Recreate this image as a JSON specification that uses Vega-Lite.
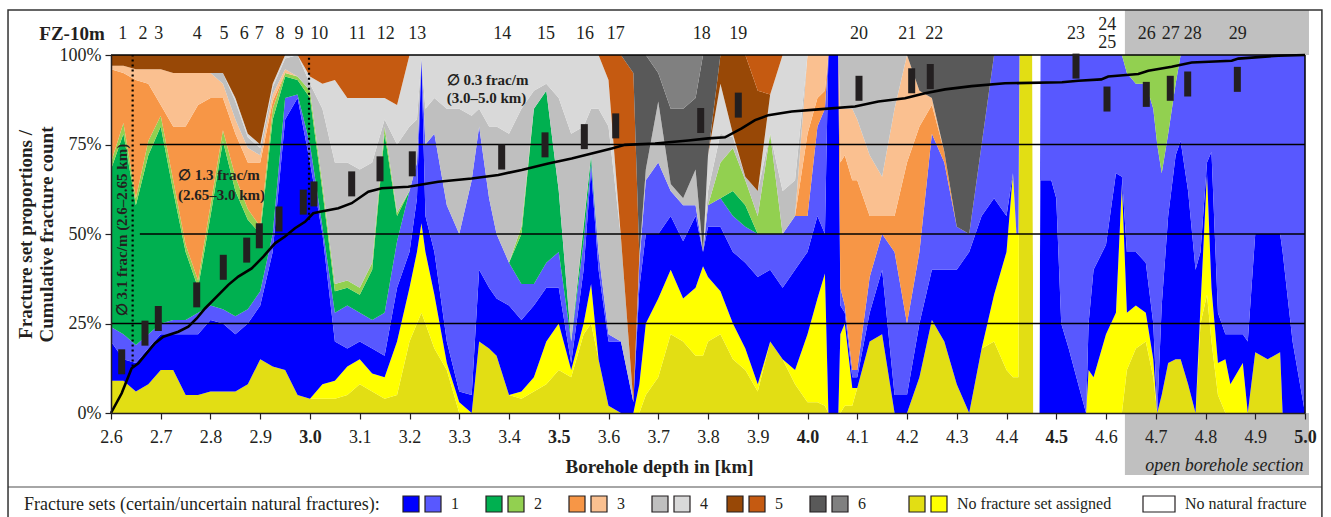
{
  "$schema": "https://vega.github.io/schema/vega-lite/v6.json",
  "width": 1194,
  "height": 358,
  "autosize": {"type": "none"},
  "padding": {"left": 111, "top": 55, "right": 26, "bottom": 104},
  "background": "#ffffff",
  "config": {
    "view": {"stroke": null},
    "font": "Liberation Serif",
    "axis": {"labelFont": "Liberation Serif", "titleFont": "Liberation Serif", "labelColor": "#231F20", "titleColor": "#231F20", "domainColor": "#231F20", "tickColor": "#231F20", "zindex": 1, "grid": false}
  },
  "datasets": {
    "areas": [
      {"km":2.6,"a":9,"b":0,"c":11,"d":4,"e":44,"f":2,"g":26,"h":1,"i":0,"j":0,"k":3,"l":0,"m":0,"n":0,"o":0},
      {"km":2.625,"a":9,"b":0,"c":6,"d":7,"e":56,"f":3,"g":14,"h":2,"i":0,"j":0,"k":3,"l":0,"m":0,"n":0,"o":0},
      {"km":2.65,"a":6,"b":0,"c":8,"d":5,"e":39,"f":2,"g":33,"h":3,"i":0,"j":0,"k":4,"l":0,"m":0,"n":0,"o":0},
      {"km":2.675,"a":8,"b":0,"c":10,"d":4,"e":50,"f":4,"g":16,"h":4,"i":0,"j":0,"k":4,"l":0,"m":0,"n":0,"o":0},
      {"km":2.7,"a":12,"b":0,"c":10,"d":3,"e":55,"f":3,"g":3,"h":10,"i":0,"j":0,"k":4,"l":0,"m":0,"n":0,"o":0},
      {"km":2.725,"a":12,"b":0,"c":10,"d":4,"e":36,"f":3,"g":15,"h":15,"i":0,"j":0,"k":5,"l":0,"m":0,"n":0,"o":0},
      {"km":2.75,"a":5,"b":0,"c":17,"d":4,"e":19,"f":2,"g":33,"h":15,"i":0,"j":0,"k":5,"l":0,"m":0,"n":0,"o":0},
      {"km":2.775,"a":5,"b":0,"c":17,"d":6,"e":7,"f":2,"g":49,"h":9,"i":0,"j":0,"k":5,"l":0,"m":0,"n":0,"o":0},
      {"km":2.8,"a":6,"b":0,"c":20,"d":4,"e":25,"f":3,"g":30,"h":7,"i":0,"j":0,"k":5,"l":0,"m":0,"n":0,"o":0},
      {"km":2.825,"a":6,"b":0,"c":19,"d":4,"e":47,"f":3,"g":9,"h":4,"i":3,"j":0,"k":5,"l":0,"m":0,"n":0,"o":0},
      {"km":2.85,"a":6,"b":0,"c":16,"d":5,"e":35,"f":4,"g":12,"h":4,"i":5,"j":1,"k":12,"l":0,"m":0,"n":0,"o":0},
      {"km":2.875,"a":8,"b":0,"c":17,"d":4,"e":25,"f":3,"g":13,"h":4,"i":3,"j":1,"k":22,"l":0,"m":0,"n":0,"o":0},
      {"km":2.9,"a":15,"b":0,"c":15,"d":4,"e":16,"f":2,"g":18,"h":2,"i":2,"j":1,"k":25,"l":0,"m":0,"n":0,"o":0},
      {"km":2.925,"a":13,"b":0,"c":32,"d":5,"e":32,"f":3,"g":2,"h":2,"i":2,"j":1,"k":8,"l":0,"m":0,"n":0,"o":0},
      {"km":2.95,"a":12,"b":0,"c":70,"d":6,"e":6,"f":1,"g":0,"h":1,"i":3,"j":1,"k":0,"l":0,"m":0,"n":0,"o":0},
      {"km":2.975,"a":5,"b":0,"c":83,"d":1,"e":4,"f":1,"g":0,"h":0,"i":6,"j":0,"k":0,"l":0,"m":0,"n":0,"o":0},
      {"km":3.0,"a":4,"b":0,"c":66,"d":5,"e":13,"f":2,"g":0,"h":0,"i":2,"j":2,"k":0,"l":6,"m":0,"n":0,"o":0},
      {"km":3.025,"a":4,"b":4,"c":42,"d":2,"e":10,"f":2,"g":0,"h":0,"i":21,"j":7,"k":0,"l":8,"m":0,"n":0,"o":0},
      {"km":3.05,"a":4,"b":5,"c":11,"d":8,"e":6,"f":2,"g":0,"h":0,"i":34,"j":23,"k":0,"l":7,"m":0,"n":0,"o":0},
      {"km":3.075,"a":5,"b":8,"c":5,"d":12,"e":5,"f":2,"g":0,"h":0,"i":33,"j":18,"k":0,"l":12,"m":0,"n":0,"o":0},
      {"km":3.1,"a":8,"b":7,"c":5,"d":8,"e":5,"f":2,"g":0,"h":0,"i":33,"j":20,"k":0,"l":12,"m":0,"n":0,"o":0},
      {"km":3.125,"a":6,"b":5,"c":7,"d":8,"e":14,"f":2,"g":0,"h":0,"i":28,"j":18,"k":0,"l":12,"m":0,"n":0,"o":0},
      {"km":3.15,"a":4,"b":6,"c":6,"d":12,"e":50,"f":2,"g":0,"h":0,"i":2,"j":6,"k":0,"l":12,"m":0,"n":0,"o":0},
      {"km":3.175,"a":5,"b":15,"c":15,"d":13,"e":7,"f":1,"g":0,"h":0,"i":19,"j":11,"k":0,"l":14,"m":0,"n":0,"o":0},
      {"km":3.2,"a":20,"b":15,"c":10,"d":17,"e":0,"f":0,"g":0,"h":0,"i":18,"j":20,"k":0,"l":0,"m":0,"n":0,"o":0},
      {"km":3.215,"a":25,"b":20,"c":15,"d":10,"e":0,"f":0,"g":0,"h":0,"i":12,"j":18,"k":0,"l":0,"m":0,"n":0,"o":0},
      {"km":3.224,"a":28,"b":25,"c":46,"d":0,"e":0,"f":0,"g":0,"h":0,"i":0,"j":1,"k":0,"l":0,"m":0,"n":0,"o":0},
      {"km":3.232,"a":25,"b":20,"c":10,"d":20,"e":0,"f":0,"g":0,"h":0,"i":10,"j":15,"k":0,"l":0,"m":0,"n":0,"o":0},
      {"km":3.25,"a":18,"b":15,"c":12,"d":33,"e":0,"f":0,"g":0,"h":0,"i":10,"j":12,"k":0,"l":0,"m":0,"n":0,"o":0},
      {"km":3.275,"a":12,"b":2,"c":6,"d":38,"e":0,"f":0,"g":0,"h":0,"i":27,"j":15,"k":0,"l":0,"m":0,"n":0,"o":0},
      {"km":3.3,"a":0,"b":3,"c":3,"d":44,"e":0,"f":0,"g":0,"h":0,"i":35,"j":15,"k":0,"l":0,"m":0,"n":0,"o":0},
      {"km":3.325,"a":0,"b":0,"c":5,"d":60,"e":0,"f":0,"g":0,"h":0,"i":18,"j":17,"k":0,"l":0,"m":0,"n":0,"o":0},
      {"km":3.34,"a":20,"b":0,"c":20,"d":40,"e":0,"f":0,"g":0,"h":0,"i":5,"j":15,"k":0,"l":0,"m":0,"n":0,"o":0},
      {"km":3.36,"a":18,"b":0,"c":17,"d":25,"e":0,"f":0,"g":0,"h":0,"i":20,"j":20,"k":0,"l":0,"m":0,"n":0,"o":0},
      {"km":3.375,"a":16,"b":0,"c":16,"d":18,"e":0,"f":0,"g":0,"h":0,"i":30,"j":20,"k":0,"l":0,"m":0,"n":0,"o":0},
      {"km":3.4,"a":5,"b":0,"c":25,"d":12,"e":0,"f":0,"g":0,"h":0,"i":36,"j":22,"k":0,"l":0,"m":0,"n":0,"o":0},
      {"km":3.425,"a":4,"b":2,"c":20,"d":10,"e":14,"f":2,"g":0,"h":0,"i":33,"j":15,"k":0,"l":0,"m":0,"n":0,"o":0},
      {"km":3.45,"a":6,"b":4,"c":20,"d":6,"e":49,"f":0,"g":0,"h":0,"i":5,"j":10,"k":0,"l":0,"m":0,"n":0,"o":0},
      {"km":3.475,"a":8,"b":12,"c":15,"d":7,"e":48,"f":0,"g":0,"h":0,"i":2,"j":8,"k":0,"l":0,"m":0,"n":0,"o":0},
      {"km":3.5,"a":12,"b":13,"c":10,"d":10,"e":17,"f":0,"g":0,"h":0,"i":26,"j":12,"k":0,"l":0,"m":0,"n":0,"o":0},
      {"km":3.525,"a":10,"b":2,"c":2,"d":6,"e":0,"f":0,"g":0,"h":0,"i":58,"j":22,"k":0,"l":0,"m":0,"n":0,"o":0},
      {"km":3.55,"a":22,"b":3,"c":15,"d":8,"e":4,"f":1,"g":0,"h":0,"i":27,"j":20,"k":0,"l":0,"m":0,"n":0,"o":0},
      {"km":3.565,"a":25,"b":11,"c":32,"d":2,"e":2,"f":0,"g":0,"h":0,"i":13,"j":15,"k":0,"l":0,"m":0,"n":0,"o":0},
      {"km":3.58,"a":15,"b":0,"c":25,"d":5,"e":0,"f":0,"g":0,"h":0,"i":40,"j":15,"k":0,"l":0,"m":0,"n":0,"o":0},
      {"km":3.6,"a":2,"b":0,"c":18,"d":2,"e":0,"f":0,"g":0,"h":0,"i":58,"j":13,"k":0,"l":7,"m":0,"n":0,"o":0},
      {"km":3.625,"a":0,"b":0,"c":20,"d":0,"e":0,"f":0,"g":0,"h":0,"i":29,"j":0,"k":0,"l":51,"m":0,"n":0,"o":0},
      {"km":3.65,"a":0,"b":0,"c":3,"d":0,"e":0,"f":0,"g":0,"h":0,"i":0,"j":0,"k":0,"l":92,"m":5,"n":0,"o":0},
      {"km":3.662,"a":0,"b":8,"c":27,"d":7,"e":0,"f":0,"g":0,"h":0,"i":2,"j":0,"k":0,"l":0,"m":56,"n":0,"o":0},
      {"km":3.675,"a":5,"b":20,"c":25,"d":15,"e":0,"f":0,"g":0,"h":0,"i":3,"j":0,"k":0,"l":0,"m":32,"n":0,"o":0},
      {"km":3.7,"a":10,"b":22,"c":18,"d":20,"e":0,"f":0,"g":0,"h":0,"i":17,"j":0,"k":0,"l":0,"m":8,"n":5,"o":0},
      {"km":3.725,"a":22,"b":18,"c":15,"d":7,"e":0,"f":0,"g":0,"h":0,"i":2,"j":0,"k":0,"l":0,"m":21,"n":15,"o":0},
      {"km":3.75,"a":20,"b":12,"c":16,"d":10,"e":0,"f":0,"g":0,"h":0,"i":2,"j":0,"k":0,"l":0,"m":25,"n":15,"o":0},
      {"km":3.775,"a":16,"b":19,"c":20,"d":3,"e":0,"f":0,"g":0,"h":0,"i":10,"j":0,"k":0,"l":0,"m":20,"n":12,"o":0},
      {"km":3.79,"a":16,"b":25,"c":4,"d":0,"e":0,"f":0,"g":0,"h":0,"i":0,"j":0,"k":0,"l":0,"m":55,"n":0,"o":0},
      {"km":3.8,"a":20,"b":18,"c":14,"d":6,"e":0,"f":0,"g":0,"h":0,"i":4,"j":10,"k":0,"l":0,"m":28,"n":0,"o":0},
      {"km":3.825,"a":22,"b":12,"c":18,"d":8,"e":0,"f":10,"g":0,"h":0,"i":8,"j":14,"k":8,"l":0,"m":0,"n":0,"o":0},
      {"km":3.85,"a":15,"b":10,"c":20,"d":10,"e":7,"f":12,"g":0,"h":0,"i":3,"j":1,"k":22,"l":0,"m":0,"n":0,"o":0},
      {"km":3.875,"a":12,"b":6,"c":24,"d":10,"e":6,"f":7,"g":0,"h":0,"i":1,"j":0,"k":34,"l":0,"m":0,"n":0,"o":0},
      {"km":3.9,"a":6,"b":2,"c":30,"d":12,"e":0,"f":5,"g":0,"h":0,"i":7,"j":0,"k":28,"l":10,"m":0,"n":0,"o":0},
      {"km":3.925,"a":20,"b":0,"c":20,"d":10,"e":0,"f":28,"g":0,"h":0,"i":0,"j":11,"k":0,"l":11,"m":0,"n":0,"o":0},
      {"km":3.95,"a":15,"b":0,"c":20,"d":15,"e":0,"f":0,"g":0,"h":0,"i":12,"j":38,"k":0,"l":0,"m":0,"n":0,"o":0},
      {"km":3.975,"a":8,"b":4,"c":28,"d":15,"e":0,"f":0,"g":0,"h":0,"i":10,"j":35,"k":0,"l":0,"m":0,"n":0,"o":0},
      {"km":4.0,"a":3,"b":19,"c":23,"d":10,"e":0,"f":0,"g":23,"h":22,"i":0,"j":0,"k":0,"l":0,"m":0,"n":0,"o":0},
      {"km":4.02,"a":3,"b":29,"c":23,"d":25,"e":0,"f":0,"g":8,"h":12,"i":0,"j":0,"k":0,"l":0,"m":0,"n":0,"o":0},
      {"km":4.035,"a":2,"b":37,"c":11,"d":35,"e":0,"f":0,"g":5,"h":10,"i":0,"j":0,"k":0,"l":0,"m":0,"n":0,"o":0},
      {"km":4.042,"a":0,"b":0,"c":100,"d":0,"e":0,"f":0,"g":0,"h":0,"i":0,"j":0,"k":0,"l":0,"m":0,"n":0,"o":0},
      {"km":4.062,"a":0,"b":0,"c":100,"d":0,"e":0,"f":0,"g":0,"h":0,"i":0,"j":0,"k":0,"l":0,"m":0,"n":0,"o":0},
      {"km":4.066,"a":0,"b":22,"c":8,"d":5,"e":0,"f":0,"g":35,"h":15,"i":15,"j":0,"k":0,"l":0,"m":0,"n":0,"o":0},
      {"km":4.075,"a":2,"b":23,"c":3,"d":2,"e":0,"f":0,"g":42,"h":13,"i":15,"j":0,"k":0,"l":0,"m":0,"n":0,"o":0},
      {"km":4.09,"a":2,"b":5,"c":3,"d":2,"e":0,"f":0,"g":53,"h":20,"i":15,"j":0,"k":0,"l":0,"m":0,"n":0,"o":0},
      {"km":4.1,"a":7,"b":0,"c":3,"d":2,"e":0,"f":0,"g":53,"h":17,"i":18,"j":0,"k":0,"l":0,"m":0,"n":0,"o":0},
      {"km":4.125,"a":20,"b":0,"c":8,"d":10,"e":0,"f":0,"g":17,"h":17,"i":28,"j":0,"k":0,"l":0,"m":0,"n":0,"o":0},
      {"km":4.15,"a":22,"b":0,"c":18,"d":10,"e":0,"f":0,"g":5,"h":11,"i":34,"j":0,"k":0,"l":0,"m":0,"n":0,"o":0},
      {"km":4.175,"a":0,"b":0,"c":5,"d":40,"e":0,"f":0,"g":10,"h":30,"i":15,"j":0,"k":0,"l":0,"m":0,"n":0,"o":0},
      {"km":4.2,"a":0,"b":0,"c":5,"d":20,"e":0,"f":0,"g":45,"h":30,"i":0,"j":0,"k":0,"l":0,"m":0,"n":0,"o":0},
      {"km":4.225,"a":10,"b":0,"c":15,"d":20,"e":0,"f":0,"g":35,"h":10,"i":0,"j":0,"k":0,"l":0,"m":10,"n":0,"o":0},
      {"km":4.25,"a":26,"b":0,"c":14,"d":38,"e":0,"f":0,"g":8,"h":2,"i":0,"j":0,"k":0,"l":0,"m":12,"n":0,"o":0},
      {"km":4.275,"a":20,"b":0,"c":20,"d":30,"e":0,"f":0,"g":3,"h":0,"i":0,"j":0,"k":0,"l":0,"m":27,"n":0,"o":0},
      {"km":4.3,"a":8,"b":0,"c":32,"d":12,"e":0,"f":0,"g":0,"h":0,"i":0,"j":0,"k":0,"l":0,"m":48,"n":0,"o":0},
      {"km":4.325,"a":0,"b":0,"c":45,"d":5,"e":0,"f":0,"g":0,"h":0,"i":0,"j":0,"k":0,"l":0,"m":50,"n":0,"o":0},
      {"km":4.35,"a":18,"b":0,"c":37,"d":20,"e":0,"f":0,"g":0,"h":0,"i":0,"j":0,"k":0,"l":0,"m":25,"n":0,"o":0},
      {"km":4.375,"a":20,"b":13,"c":27,"d":40,"e":0,"f":0,"g":0,"h":0,"i":0,"j":0,"k":0,"l":0,"m":0,"n":0,"o":0},
      {"km":4.4,"a":12,"b":33,"c":10,"d":45,"e":0,"f":0,"g":0,"h":0,"i":0,"j":0,"k":0,"l":0,"m":0,"n":0,"o":0},
      {"km":4.413,"a":10,"b":57,"c":0,"d":33,"e":0,"f":0,"g":0,"h":0,"i":0,"j":0,"k":0,"l":0,"m":0,"n":0,"o":0},
      {"km":4.42,"a":10,"b":40,"c":0,"d":50,"e":0,"f":0,"g":0,"h":0,"i":0,"j":0,"k":0,"l":0,"m":0,"n":0,"o":0},
      {"km":4.424,"a":10,"b":40,"c":0,"d":50,"e":0,"f":0,"g":0,"h":0,"i":0,"j":0,"k":0,"l":0,"m":0,"n":0,"o":0},
      {"km":4.426,"a":100,"b":0,"c":0,"d":0,"e":0,"f":0,"g":0,"h":0,"i":0,"j":0,"k":0,"l":0,"m":0,"n":0,"o":0},
      {"km":4.452,"a":100,"b":0,"c":0,"d":0,"e":0,"f":0,"g":0,"h":0,"i":0,"j":0,"k":0,"l":0,"m":0,"n":0,"o":0},
      {"km":4.454,"a":0,"b":0,"c":0,"d":0,"e":0,"f":0,"g":0,"h":0,"i":0,"j":0,"k":0,"l":0,"m":0,"n":0,"o":100},
      {"km":4.466,"a":0,"b":0,"c":0,"d":0,"e":0,"f":0,"g":0,"h":0,"i":0,"j":0,"k":0,"l":0,"m":0,"n":0,"o":100},
      {"km":4.468,"a":0,"b":0,"c":65,"d":35,"e":0,"f":0,"g":0,"h":0,"i":0,"j":0,"k":0,"l":0,"m":0,"n":0,"o":0},
      {"km":4.49,"a":0,"b":0,"c":65,"d":35,"e":0,"f":0,"g":0,"h":0,"i":0,"j":0,"k":0,"l":0,"m":0,"n":0,"o":0},
      {"km":4.5,"a":0,"b":0,"c":60,"d":40,"e":0,"f":0,"g":0,"h":0,"i":0,"j":0,"k":0,"l":0,"m":0,"n":0,"o":0},
      {"km":4.51,"a":0,"b":0,"c":25,"d":75,"e":0,"f":0,"g":0,"h":0,"i":0,"j":0,"k":0,"l":0,"m":0,"n":0,"o":0},
      {"km":4.525,"a":0,"b":0,"c":18,"d":82,"e":0,"f":0,"g":0,"h":0,"i":0,"j":0,"k":0,"l":0,"m":0,"n":0,"o":0},
      {"km":4.55,"a":0,"b":0,"c":5,"d":95,"e":0,"f":0,"g":0,"h":0,"i":0,"j":0,"k":0,"l":0,"m":0,"n":0,"o":0},
      {"km":4.56,"a":0,"b":0,"c":0,"d":100,"e":0,"f":0,"g":0,"h":0,"i":0,"j":0,"k":0,"l":0,"m":0,"n":0,"o":0},
      {"km":4.565,"a":0,"b":12,"c":13,"d":75,"e":0,"f":0,"g":0,"h":0,"i":0,"j":0,"k":0,"l":0,"m":0,"n":0,"o":0},
      {"km":4.575,"a":0,"b":10,"c":30,"d":60,"e":0,"f":0,"g":0,"h":0,"i":0,"j":0,"k":0,"l":0,"m":0,"n":0,"o":0},
      {"km":4.6,"a":0,"b":22,"c":25,"d":53,"e":0,"f":0,"g":0,"h":0,"i":0,"j":0,"k":0,"l":0,"m":0,"n":0,"o":0},
      {"km":4.62,"a":0,"b":28,"c":39,"d":33,"e":0,"f":0,"g":0,"h":0,"i":0,"j":0,"k":0,"l":0,"m":0,"n":0,"o":0},
      {"km":4.632,"a":0,"b":64,"c":2,"d":34,"e":0,"f":0,"g":0,"h":0,"i":0,"j":0,"k":0,"l":0,"m":0,"n":0,"o":0},
      {"km":4.642,"a":12,"b":16,"c":17,"d":50,"e":0,"f":5,"g":0,"h":0,"i":0,"j":0,"k":0,"l":0,"m":0,"n":0,"o":0},
      {"km":4.66,"a":18,"b":12,"c":15,"d":47,"e":0,"f":8,"g":0,"h":0,"i":0,"j":0,"k":0,"l":0,"m":0,"n":0,"o":0},
      {"km":4.68,"a":20,"b":8,"c":14,"d":50,"e":0,"f":8,"g":0,"h":0,"i":0,"j":0,"k":0,"l":0,"m":0,"n":0,"o":0},
      {"km":4.695,"a":10,"b":5,"c":10,"d":60,"e":0,"f":15,"g":0,"h":0,"i":0,"j":0,"k":0,"l":0,"m":0,"n":0,"o":0},
      {"km":4.703,"a":0,"b":0,"c":0,"d":75,"e":0,"f":25,"g":0,"h":0,"i":0,"j":0,"k":0,"l":0,"m":0,"n":0,"o":0},
      {"km":4.712,"a":5,"b":0,"c":25,"d":37,"e":0,"f":33,"g":0,"h":0,"i":0,"j":0,"k":0,"l":0,"m":0,"n":0,"o":0},
      {"km":4.725,"a":14,"b":0,"c":41,"d":23,"e":0,"f":22,"g":0,"h":0,"i":0,"j":0,"k":0,"l":0,"m":0,"n":0,"o":0},
      {"km":4.74,"a":15,"b":0,"c":57,"d":20,"e":0,"f":8,"g":0,"h":0,"i":0,"j":0,"k":0,"l":0,"m":0,"n":0,"o":0},
      {"km":4.75,"a":15,"b":0,"c":61,"d":24,"e":0,"f":0,"g":0,"h":0,"i":0,"j":0,"k":0,"l":0,"m":0,"n":0,"o":0},
      {"km":4.765,"a":8,"b":0,"c":54,"d":38,"e":0,"f":0,"g":0,"h":0,"i":0,"j":0,"k":0,"l":0,"m":0,"n":0,"o":0},
      {"km":4.78,"a":0,"b":0,"c":40,"d":60,"e":0,"f":0,"g":0,"h":0,"i":0,"j":0,"k":0,"l":0,"m":0,"n":0,"o":0},
      {"km":4.79,"a":25,"b":5,"c":15,"d":55,"e":0,"f":0,"g":0,"h":0,"i":0,"j":0,"k":0,"l":0,"m":0,"n":0,"o":0},
      {"km":4.803,"a":33,"b":34,"c":3,"d":30,"e":0,"f":0,"g":0,"h":0,"i":0,"j":0,"k":0,"l":0,"m":0,"n":0,"o":0},
      {"km":4.812,"a":20,"b":15,"c":38,"d":27,"e":0,"f":0,"g":0,"h":0,"i":0,"j":0,"k":0,"l":0,"m":0,"n":0,"o":0},
      {"km":4.825,"a":5,"b":9,"c":14,"d":72,"e":0,"f":0,"g":0,"h":0,"i":0,"j":0,"k":0,"l":0,"m":0,"n":0,"o":0},
      {"km":4.84,"a":0,"b":15,"c":7,"d":78,"e":0,"f":0,"g":0,"h":0,"i":0,"j":0,"k":0,"l":0,"m":0,"n":0,"o":0},
      {"km":4.85,"a":0,"b":8,"c":14,"d":78,"e":0,"f":0,"g":0,"h":0,"i":0,"j":0,"k":0,"l":0,"m":0,"n":0,"o":0},
      {"km":4.875,"a":0,"b":14,"c":8,"d":78,"e":0,"f":0,"g":0,"h":0,"i":0,"j":0,"k":0,"l":0,"m":0,"n":0,"o":0},
      {"km":4.885,"a":0,"b":0,"c":20,"d":80,"e":0,"f":0,"g":0,"h":0,"i":0,"j":0,"k":0,"l":0,"m":0,"n":0,"o":0},
      {"km":4.9,"a":17,"b":0,"c":33,"d":50,"e":0,"f":0,"g":0,"h":0,"i":0,"j":0,"k":0,"l":0,"m":0,"n":0,"o":0},
      {"km":4.925,"a":15,"b":0,"c":35,"d":50,"e":0,"f":0,"g":0,"h":0,"i":0,"j":0,"k":0,"l":0,"m":0,"n":0,"o":0},
      {"km":4.95,"a":17,"b":0,"c":33,"d":50,"e":0,"f":0,"g":0,"h":0,"i":0,"j":0,"k":0,"l":0,"m":0,"n":0,"o":0},
      {"km":4.955,"a":0,"b":0,"c":45,"d":55,"e":0,"f":0,"g":0,"h":0,"i":0,"j":0,"k":0,"l":0,"m":0,"n":0,"o":0},
      {"km":4.975,"a":0,"b":0,"c":20,"d":80,"e":0,"f":0,"g":0,"h":0,"i":0,"j":0,"k":0,"l":0,"m":0,"n":0,"o":0},
      {"km":5.0,"a":0,"b":0,"c":0,"d":100,"e":0,"f":0,"g":0,"h":0,"i":0,"j":0,"k":0,"l":0,"m":0,"n":0,"o":0}
    ],
    "cum": [
      {"km":2.6,"v":0},{"km":2.6215,"v":0.055},{"km":2.6415,"v":0.125},{"km":2.655,"v":0.139},{"km":2.6717,"v":0.167},
      {"km":2.6884,"v":0.195},{"km":2.7051,"v":0.213},{"km":2.7353,"v":0.227},{"km":2.7554,"v":0.241},{"km":2.7722,"v":0.264},
      {"km":2.7889,"v":0.292},{"km":2.809,"v":0.32},{"km":2.8358,"v":0.358},{"km":2.8559,"v":0.381},{"km":2.8828,"v":0.404},
      {"km":2.9062,"v":0.437},{"km":2.9296,"v":0.474},{"km":2.9497,"v":0.493},{"km":2.9698,"v":0.516},{"km":2.99,"v":0.534},
      {"km":3.0066,"v":0.558},{"km":3.0201,"v":0.562},{"km":3.0569,"v":0.572},{"km":3.0838,"v":0.586},{"km":3.1172,"v":0.618},
      {"km":3.1441,"v":0.628},{"km":3.1976,"v":0.632},{"km":3.2579,"v":0.646},{"km":3.325,"v":0.655},{"km":3.3785,"v":0.665},
      {"km":3.4255,"v":0.679},{"km":3.479,"v":0.697},{"km":3.526,"v":0.711},{"km":3.5662,"v":0.725},{"km":3.6064,"v":0.739},
      {"km":3.6332,"v":0.749},{"km":3.6935,"v":0.753},{"km":3.7604,"v":0.761},{"km":3.8006,"v":0.767},{"km":3.8342,"v":0.77},
      {"km":3.8677,"v":0.795},{"km":3.8945,"v":0.818},{"km":3.9213,"v":0.832},{"km":3.9682,"v":0.842},{"km":4.0217,"v":0.848},
      {"km":4.0955,"v":0.856},{"km":4.1424,"v":0.87},{"km":4.196,"v":0.879},{"km":4.2362,"v":0.893},{"km":4.2764,"v":0.904},
      {"km":4.33,"v":0.913},{"km":4.397,"v":0.921},{"km":4.5116,"v":0.924},{"km":4.5443,"v":0.928},{"km":4.5905,"v":0.932},
      {"km":4.6045,"v":0.94},{"km":4.6649,"v":0.947},{"km":4.685,"v":0.956},{"km":4.732,"v":0.967},{"km":4.7722,"v":0.979},
      {"km":4.8526,"v":0.984},{"km":4.866,"v":0.99},{"km":4.9464,"v":0.998},{"km":5.0,"v":1.0}
    ],
    "marks": [
      {"n":"1","km":2.6215,"p":0.143,"lx":2.6235},{"n":"2","km":2.6683,"p":0.223,"lx":2.6643},{"n":"3","km":2.6951,"p":0.264,"lx":2.6959},
      {"n":"4","km":2.7723,"p":0.33,"lx":2.7735},{"n":"5","km":2.8257,"p":0.407,"lx":2.8271},{"n":"6","km":2.8728,"p":0.455,"lx":2.8679},
      {"n":"7","km":2.8981,"p":0.495,"lx":2.8981},{"n":"8","km":2.9377,"p":0.542,"lx":2.9397},{"n":"9","km":2.9865,"p":0.589,"lx":2.9779},
      {"n":"10","km":3.008,"p":0.612,"lx":3.0187},{"n":"11","km":3.0838,"p":0.64,"lx":3.0951},{"n":"12","km":3.1407,"p":0.682,"lx":3.1522},
      {"n":"13","km":3.2056,"p":0.696,"lx":3.2157},{"n":"14","km":3.3853,"p":0.715,"lx":3.3865},{"n":"15","km":3.4724,"p":0.749,"lx":3.4744},
      {"n":"16","km":3.5514,"p":0.772,"lx":3.5528},{"n":"17","km":3.6145,"p":0.802,"lx":3.6145},{"n":"18","km":3.7853,"p":0.817,"lx":3.7873},
      {"n":"19","km":3.8609,"p":0.86,"lx":3.8609},{"n":"20","km":4.1035,"p":0.907,"lx":4.1035},{"n":"21","km":4.2094,"p":0.928,"lx":4.2006},
      {"n":"22","km":4.2468,"p":0.94,"lx":4.2549},{"n":"23","km":4.5397,"p":0.969,"lx":4.5397},{"n":"24\n25","km":4.602,"p":0.877,"lx":4.6026},
      {"n":"26","km":4.681,"p":0.89,"lx":4.6818},{"n":"27","km":4.7292,"p":0.907,"lx":4.73},{"n":"28","km":4.7642,"p":0.919,"lx":4.7743},
      {"n":"29","km":4.864,"p":0.932,"lx":4.8647}
    ]
  },
  "layer": [
    {
      "data": {"name": "areas"},
      "transform": [{"fold": ["a","b","c","d","e","f","g","h","i","j","k","l","m","n","o"], "as": ["cat","p"]}],
      "mark": {"type": "area", "interpolate": "linear"},
      "encoding": {
        "x": {"field": "km", "type": "quantitative",
          "scale": {"domain": [2.6, 5.0], "nice": false, "zero": false},
          "axis": {"zindex": 2, "values": [2.6,2.7,2.8,2.9,3.0,3.1,3.2,3.3,3.4,3.5,3.6,3.7,3.8,3.9,4.0,4.1,4.2,4.3,4.4,4.5,4.6,4.7,4.8,4.9,5.0],
            "format": ".1f", "labelFlush": false, "labelFontSize": 18, "labelPadding": 9, "tickSize": 6, "tickWidth": 1.2, "domainWidth": 1.5,
            "labelFontWeight": {"condition": {"test": "round(datum.value*10) % 5 === 0", "value": "bold"}, "value": "normal"},
            "title": "Borehole depth in [km]", "titleFontSize": 19, "titleFontWeight": "bold", "titleX": 548, "titleY": 53, "titleBaseline": "middle"}},
        "y": {"field": "p", "type": "quantitative", "stack": "normalize",
          "scale": {"domain": [0, 1], "nice": false},
          "axis": {"zindex": 2, "values": [0, 0.25, 0.5, 0.75, 1], "format": ".0%", "labelFontSize": 18, "labelPadding": 4, "tickSize": 6, "tickWidth": 1.2, "domainWidth": 1.5,
            "title": ["Fracture set proportions /", "Cumulative fracture count"], "titleFontSize": 19, "titleFontWeight": "bold", "titlePadding": 3, "titleLineHeight": 21}},
        "order": {"field": "cat", "sort": "ascending"},
        "color": {"field": "cat", "type": "nominal",
          "scale": {"domain": ["c","d","e","f","g","h","i","j","k","l","m","n","a","b","o"],
                    "range": ["#0000FF","#5858FF","#00B050","#92D050","#F79646","#FAC090","#BFBFBF","#D9D9D9","#984806","#C55A11","#595959","#808080","#E2DE14","#FFFF00","#FFFFFF"]},
          "legend": {"orient": "none", "legendX": -87, "legendY": 440, "direction": "horizontal", "columns": 15, "gridAlign": "none",
            "title": "Fracture sets (certain/uncertain natural fractures):", "titleLimit": 600, "titleOrient": "left", "titleFont": "Liberation Serif", "titleFontSize": 18, "titleFontWeight": "normal", "titleColor": "#231F20", "titlePadding": 22,
            "labelFont": "Liberation Serif", "labelFontSize": 16, "labelColor": "#231F20", "labelOffset": 1, "labelLimit": 400, "columnPadding": 0, "padding": 0,
            "symbolType": "square", "symbolSize": 256, "symbolOpacity": 1,
            "labelExpr": "datum.label=='d' ? '\u200b\u00a0\u00a01\u00a0\u00a0\u00a0\u00a0\u00a0\u00a0\u200b' : datum.label=='f' ? '\u200b\u00a0\u00a02\u00a0\u00a0\u00a0\u00a0\u00a0\u00a0\u200b' : datum.label=='h' ? '\u200b\u00a0\u00a03\u00a0\u00a0\u00a0\u00a0\u00a0\u00a0\u200b' : datum.label=='j' ? '\u200b\u00a0\u00a04\u00a0\u00a0\u00a0\u00a0\u200b' : datum.label=='l' ? '\u200b\u00a0\u00a05\u00a0\u00a0\u00a0\u00a0\u00a0\u00a0\u200b' : datum.label=='n' ? '\u200b\u00a0\u00a06\u00a0\u00a0\u00a0\u00a0\u00a0\u00a0\u00a0\u00a0\u00a0\u00a0\u200b' : datum.label=='b' ? '\u200b\u00a0\u00a0No fracture set assigned\u00a0\u00a0\u00a0\u00a0\u00a0\u00a0\u00a0\u200b' : datum.label=='o' ? '\u200b\u00a0\u00a0\u00a0\u00a0No natural fracture' : ''",
            "encode": {"symbols": {"update": {"stroke": {"value": "#231F20"}, "strokeWidth": {"value": 1.2}, "opacity": {"value": 1},
              "shape": [{"test": "datum.value === 'o'", "value": "M-2,-1H2V1H-2Z"}, {"value": "square"}]}}}}
        }
      }
    },
    {"data": {"values": [{}]}, "mark": {"type": "rect", "color": "#C0C0C0"},
     "encoding": {"x": {"datum": 4.638, "type": "quantitative"}, "x2": {"datum": 5.008}, "y": {"datum": 1.126, "type": "quantitative"}, "y2": {"datum": 1.0}}},
    {"data": {"values": [{}]}, "mark": {"type": "rect", "color": "#C0C0C0"},
     "encoding": {"x": {"datum": 4.638, "type": "quantitative"}, "x2": {"datum": 5.008}, "y": {"datum": 0.0, "type": "quantitative"}, "y2": {"datum": -0.173}}},
    {"data": {"values": [{}]}, "mark": {"type": "rule", "color": "#000000", "strokeWidth": 1.5}, "encoding": {"y": {"datum": 0.25, "type": "quantitative"}}},
    {"data": {"values": [{}]}, "mark": {"type": "rule", "color": "#000000", "strokeWidth": 1.5}, "encoding": {"y": {"datum": 1.0, "type": "quantitative"}}},
    {"data": {"values": [{}]}, "mark": {"type": "rule", "color": "#000000", "strokeWidth": 1.5}, "encoding": {"x": {"datum": 2.658, "type": "quantitative"}, "x2": {"datum": 5.0}, "y": {"datum": 0.5, "type": "quantitative"}}},
    {"data": {"values": [{}]}, "mark": {"type": "rule", "color": "#000000", "strokeWidth": 1.5}, "encoding": {"x": {"datum": 2.658, "type": "quantitative"}, "x2": {"datum": 5.0}, "y": {"datum": 0.75, "type": "quantitative"}}},
    {"data": {"values": [{}]}, "mark": {"type": "rule", "color": "#000000", "strokeWidth": 1.5}, "encoding": {"x": {"datum": 5.0, "type": "quantitative"}}},
    {"data": {"values": [{}]}, "mark": {"type": "rule", "color": "#000000", "strokeWidth": 2.2, "strokeDash": [2, 3]}, "encoding": {"x": {"datum": 2.6435, "type": "quantitative"}, "y": {"datum": 0.13, "type": "quantitative"}, "y2": {"datum": 1.0}}},
    {"data": {"values": [{}]}, "mark": {"type": "rule", "color": "#000000", "strokeWidth": 2.2, "strokeDash": [2, 3]}, "encoding": {"x": {"datum": 2.998, "type": "quantitative"}, "y": {"datum": 0.54, "type": "quantitative"}, "y2": {"datum": 1.0}}},
    {"data": {"name": "cum"}, "mark": {"type": "line", "color": "#000000", "strokeWidth": 2.6},
     "encoding": {"x": {"field": "km", "type": "quantitative"}, "y": {"field": "v", "type": "quantitative"}}},
    {"data": {"name": "marks"}, "mark": {"type": "tick", "orient": "vertical", "color": "#231F20", "size": 25, "thickness": 7, "opacity": 1},
     "encoding": {"x": {"field": "km", "type": "quantitative"}, "y": {"field": "p", "type": "quantitative"}}},
    {"data": {"name": "marks"}, "transform": [{"filter": "indexof(datum.n, '\\n') < 0"}],
     "mark": {"type": "text", "fontSize": 18, "font": "Liberation Serif", "color": "#231F20", "baseline": "middle", "align": "center"},
     "encoding": {"x": {"field": "lx", "type": "quantitative"}, "y": {"datum": 1.058, "type": "quantitative"}, "text": {"field": "n"}}},
    {"data": {"name": "marks"}, "transform": [{"filter": "indexof(datum.n, '\\n') >= 0"}],
     "mark": {"type": "text", "fontSize": 18, "font": "Liberation Serif", "color": "#231F20", "lineBreak": "\n", "lineHeight": 18, "baseline": "middle", "align": "center"},
     "encoding": {"x": {"field": "lx", "type": "quantitative"}, "y": {"datum": 1.084, "type": "quantitative"}, "text": {"field": "n"}}},
    {"data": {"values": [{}]}, "mark": {"type": "text", "text": "FZ-10m", "fontSize": 19, "fontWeight": "bold", "font": "Liberation Serif", "color": "#231F20", "baseline": "middle", "align": "center"},
     "encoding": {"x": {"datum": 2.5216, "type": "quantitative"}, "y": {"datum": 1.058, "type": "quantitative"}}},
    {"data": {"values": [{}]}, "mark": {"type": "text", "text": "∅ 3.1 frac/m (2.6–2.65 km)", "angle": 270, "fontSize": 15, "fontWeight": "bold", "font": "Liberation Serif", "color": "#231F20", "baseline": "middle", "align": "center"},
     "encoding": {"x": {"datum": 2.622, "type": "quantitative"}, "y": {"datum": 0.511, "type": "quantitative"}}},
    {"data": {"values": [{}]}, "mark": {"type": "text", "text": ["∅ 1.3 frac/m", "(2.65–3.0 km)"], "lineHeight": 20, "fontSize": 15, "fontWeight": "bold", "font": "Liberation Serif", "color": "#231F20", "baseline": "middle", "align": "left"},
     "encoding": {"x": {"datum": 2.7347, "type": "quantitative"}, "y": {"datum": 0.665, "type": "quantitative"}}},
    {"data": {"values": [{}]}, "mark": {"type": "text", "text": ["∅ 0.3 frac/m", "(3.0–5.0 km)"], "lineHeight": 18, "fontSize": 15, "fontWeight": "bold", "font": "Liberation Serif", "color": "#231F20", "baseline": "middle", "align": "left"},
     "encoding": {"x": {"datum": 3.2748, "type": "quantitative"}, "y": {"datum": 0.93, "type": "quantitative"}}},
    {"data": {"values": [{}]}, "mark": {"type": "text", "text": "open borehole section", "fontSize": 18, "fontStyle": "italic", "font": "Liberation Serif", "color": "#231F20", "baseline": "middle", "align": "center"},
     "encoding": {"x": {"datum": 4.838, "type": "quantitative"}, "y": {"datum": -0.148, "type": "quantitative"}}},
    {"data": {"values": [{}]}, "mark": {"type": "rule", "color": "#A6A6A6", "strokeWidth": 2},
     "encoding": {"x": {"datum": 2.393, "type": "quantitative"}, "x2": {"datum": 5.034}, "y": {"datum": -0.2067, "type": "quantitative"}}},
    {"data": {"values": [{}]}, "mark": {"type": "rect", "filled": false, "stroke": "#333333", "strokeWidth": 1.5},
     "encoding": {"x": {"datum": 2.393, "type": "quantitative"}, "x2": {"datum": 5.034}, "y": {"datum": 1.126, "type": "quantitative"}, "y2": {"datum": -0.35}}}
  ]
}
